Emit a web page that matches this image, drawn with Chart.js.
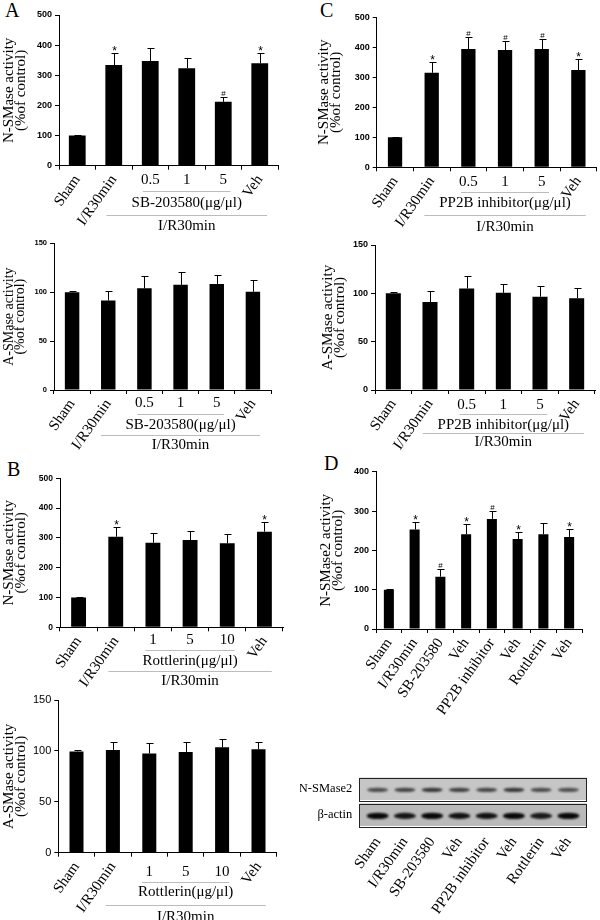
<!DOCTYPE html>
<html>
<head>
<meta charset="utf-8">
<script src="https://cdn.jsdelivr.net/npm/chart.js@4.4.1/dist/chart.umd.min.js"></script>
<style>
html,body{margin:0;padding:0;background:#fff;}
body{width:600px;height:920px;position:relative;overflow:hidden;}
.letter{position:absolute;font-family:"Liberation Serif","Times New Roman",Times,serif;font-size:20px;line-height:20px;color:#000;}
</style>
</head>
<body>
<div class="letter" style="left:5px;top:0px">A</div>
<div class="letter" style="left:320px;top:0px">C</div>
<div class="letter" style="left:7px;top:459px">B</div>
<div class="letter" style="left:324px;top:453px">D</div>
<script>
// ---------------- DATA ----------------
// Panel A : SB-203580
const catsA = ['Sham', 'I/R30min', '0.5', '1', '5', 'Veh'];
const aNSMase = [100, 334, 347, 323, 212, 340];
const aNSMaseErr = [1.5, 39, 42, 33, 17, 33];
const aNSMaseSig = ['', '*', '', '', '#', '*'];
const aASMase = [100, 91.5, 104, 107.5, 108.5, 100.5];
const aASMaseErr = [1, 10, 13, 13.5, 9.5, 12];

// Panel C : PP2B inhibitor
const catsC = ['Sham', 'I/R30min', '0.5', '1', '5', 'Veh'];
const cNSMase = [100, 315, 394, 391, 394, 324];
const cNSMaseErr = [1.5, 37, 41, 31, 35, 38];
const cNSMaseSig = ['', '*', '#', '#', '#', '*'];
const cASMase = [100, 91, 105, 100.5, 96.5, 95];
const cASMaseErr = [1, 11, 12.5, 9, 11.5, 10.5];

// Panel B : Rottlerin
const catsB = ['Sham', 'I/R30min', '1', '5', '10', 'Veh'];
const bNSMase = [100, 304, 284, 293, 282, 321];
const bNSMaseErr = [1.5, 34, 34, 31, 30, 33];
const bNSMaseSig = ['', '*', '', '', '', '*'];
const bASMase = [99.5, 101, 97.5, 99, 103.5, 101.5];
const bASMaseErr = [1.5, 8, 10, 10, 8, 7.5];

// Panel D : N-SMase2
const catsD = ['Sham', 'I/R30min', 'SB-203580', 'Veh', 'PP2B inhibitor', 'Veh', 'Rottlerin', 'Veh'];
const dNSMase2 = [100, 253, 133, 241, 280, 229, 241, 234];
const dNSMase2Err = [1.5, 18, 20, 26, 20, 18, 28, 20];
const dNSMase2Sig = ['', '*', '#', '*', '#', '*', '', '*'];

// Western blot band intensities (relative)
const blotNSMase2 = [0.75, 0.8, 0.88, 0.82, 0.78, 0.88, 0.75, 0.72];
const blotActin = [1.0, 0.92, 1.0, 0.95, 0.95, 1.0, 0.9, 1.0];
const blotRows = ['N-SMase2', 'β-actin'];

// tick settings
const nsmaseTicks = { max: 500, step: 100 };
const asmaseTicks = { max: 150, step: 50 };
const nsmase2Ticks = { max: 400, step: 100 };

const titleN = ['N-SMase activity', '(%of control)'];
const titleA = ['A-SMase activity', '(%of control)'];
const titleN2 = ['N-SMase2 activity', '(%of control)'];
const groupOuter = 'I/R30min';

// ---------------- RENDER ----------------
const SERIF = '"Liberation Serif","Times New Roman",Times,serif';
const SANS = '"Liberation Sans",Arial,Helvetica,sans-serif';

function makeCanvas(rect) {
  const [cx, cy, cw, ch] = rect;
  const cv = document.createElement('canvas');
  cv.width = cw; cv.height = ch;
  cv.style.cssText = 'position:absolute;left:' + cx + 'px;top:' + cy + 'px;width:' + cw + 'px;height:' + ch + 'px;';
  document.body.appendChild(cv);
  return cv;
}

function buildBarPanel(p) {
  const [cx, cy, cw, ch] = p.canvasRect;
  const [pl, pt, pr, pb] = p.plotRect;
  const cv = makeCanvas(p.canvasRect);
  const yW = pl - cx, xH = cy + ch - pb;
  const lh = p.titleSize * p.titleLH;
  const titlePad = (p.titleX - cx) - lh / 2;
  const horiz = p.horizIdx || [];

  const overlay = {
    id: 'overlay_' + p.id,
    afterDatasetsDraw(chart) {
      const ctx = chart.ctx, xs = chart.scales.x, ys = chart.scales.y;
      const meta = chart.getDatasetMeta(0);
      const base = chart.chartArea.bottom;
      ctx.save();
      ctx.strokeStyle = '#000'; ctx.fillStyle = '#000'; ctx.lineWidth = 1;
      p.values.forEach((v, i) => {
        const bar = meta.data[i];
        const x = Math.round(bar.x) + 0.5;
        const y0 = ys.getPixelForValue(v);
        const y1 = Math.round(ys.getPixelForValue(v + p.errors[i])) + 0.5;
        ctx.beginPath();
        ctx.moveTo(x, y0); ctx.lineTo(x, y1);
        ctx.moveTo(x - p.cap, y1); ctx.lineTo(x + p.cap + 1, y1);
        ctx.stroke();
        const s = p.sig[i];
        if (s) {
          ctx.textAlign = 'center';
          ctx.textBaseline = 'alphabetic';
          if (s === '*') { ctx.font = '12px ' + SANS; ctx.fillText(s, x, y1 + 1); }
          else { ctx.font = '8px ' + SANS; ctx.fillText(s, x, y1 - 2); }
        }
      });
      // horizontal category labels (doses)
      ctx.font = p.labelSize + 'px ' + SERIF;
      ctx.textAlign = 'center'; ctx.textBaseline = 'middle';
      horiz.forEach(i => ctx.fillText(p.labels[i], xs.getPixelForValue(i), base + p.offs[0]));
      if (p.group) {
        const cat = xs.getPixelForValue(1) - xs.getPixelForValue(0);
        const g = p.group;
        const a1 = xs.getPixelForValue(g.inner[0]) - 0.2 * cat;
        const b1 = xs.getPixelForValue(g.inner[1]) + 0.2 * cat;
        const a2 = xs.getPixelForValue(g.outer[0]) - 0.2 * cat;
        const b2 = xs.getPixelForValue(g.outer[1]) + 0.2 * cat;
        ctx.strokeStyle = '#bcbcbc';
        ctx.beginPath();
        const l1 = Math.round(base + p.offs[1]) + 0.5;
        const l2 = Math.round(base + p.offs[3]) + 0.5;
        ctx.moveTo(a1, l1); ctx.lineTo(b1, l1);
        ctx.moveTo(a2, l2); ctx.lineTo(b2, l2);
        ctx.stroke();
        ctx.fillText(g.innerText, (a1 + b1) / 2, base + p.offs[2]);
        ctx.fillText(g.outerText, (a2 + b2) / 2, base + p.offs[4]);
      }
      ctx.restore();
    }
  };

  return new Chart(cv, {
    type: 'bar',
    data: {
      labels: p.labels,
      datasets: [{
        data: p.values,
        backgroundColor: '#000',
        borderWidth: 0,
        barPercentage: p.barPct,
        categoryPercentage: 1
      }]
    },
    options: {
      responsive: false,
      animation: false,
      devicePixelRatio: 1,
      layout: { padding: { left: 0, top: pt - cy, right: cx + cw - pr, bottom: 0 } },
      plugins: { legend: { display: false }, tooltip: { enabled: false } },
      scales: {
        x: {
          offset: true,
          grid: { display: true, offset: true, drawOnChartArea: false, drawTicks: true, tickLength: 4, color: '#000', lineWidth: 1 },
          border: { display: true, color: '#000', width: 1 },
          ticks: {
            autoSkip: false, minRotation: 55, maxRotation: 55, padding: 2,
            color: '#000',
            font: { family: SERIF, size: p.labelSize },
            callback: function (value, index) { return horiz.includes(index) ? '' : p.labels[index]; }
          },
          afterFit: s => { s.height = xH; }
        },
        y: {
          min: 0, max: p.ticks.max,
          grid: { drawOnChartArea: false, drawTicks: true, tickLength: 4, color: '#000', lineWidth: 1 },
          border: { display: true, color: '#000', width: 1 },
          ticks: {
            stepSize: p.ticks.step, padding: 3, color: '#000',
            font: { family: SANS, size: p.tickSize, weight: p.tickWeight }
          },
          title: {
            display: true, text: p.title, color: '#000',
            font: { family: SERIF, size: p.titleSize, lineHeight: p.titleLH },
            padding: { top: titlePad, bottom: 0 }
          },
          afterFit: s => { s.width = yW; }
        }
      }
    },
    plugins: [overlay]
  });
}

buildBarPanel({
  id: 'aTop', canvasRect: [0, 0, 300, 235], plotRect: [59, 15, 278, 165.7],
  labels: catsA, values: aNSMase, errors: aNSMaseErr, sig: aNSMaseSig,
  ticks: nsmaseTicks, tickSize: 9, tickWeight: 'bold',
  title: titleN, titleSize: 15, titleLH: 0.8, titleX: 9.5,
  barPct: 0.46, cap: 3, labelSize: 15, horizIdx: [2, 3, 4],
  offs: [14.3, 25.7, 37, 49, 60],
  group: { inner: [2, 4], outer: [1, 5], innerText: 'SB-203580(μg/μl)', outerText: groupOuter }
});

buildBarPanel({
  id: 'aBot', canvasRect: [0, 235, 300, 220], plotRect: [54, 243.3, 271, 390],
  labels: catsA, values: aASMase, errors: aASMaseErr, sig: ['', '', '', '', '', ''],
  ticks: asmaseTicks, tickSize: 7.5, tickWeight: 'bold',
  title: titleA, titleSize: 14, titleLH: 0.8, titleX: 9,
  barPct: 0.4, cap: 3, labelSize: 15, horizIdx: [2, 3, 4],
  offs: [13, 24, 35, 45, 55],
  group: { inner: [2, 4], outer: [1, 5], innerText: 'SB-203580(μg/μl)', outerText: groupOuter }
});

buildBarPanel({
  id: 'cTop', canvasRect: [300, 0, 300, 235], plotRect: [376.7, 17.3, 596.7, 167.3],
  labels: catsC, values: cNSMase, errors: cNSMaseErr, sig: cNSMaseSig,
  ticks: nsmaseTicks, tickSize: 9, tickWeight: 'bold',
  title: titleN, titleSize: 15, titleLH: 0.8, titleX: 324.5,
  barPct: 0.39, cap: 3, labelSize: 15, horizIdx: [2, 3, 4],
  offs: [14.4, 24.4, 35.7, 47.7, 59.7],
  group: { inner: [2, 4], outer: [1, 5], innerText: 'PP2B inhibitor(μg/μl)', outerText: groupOuter }
});

buildBarPanel({
  id: 'cBot', canvasRect: [300, 235, 300, 220], plotRect: [375, 245, 595, 390],
  labels: catsC, values: cASMase, errors: cASMaseErr, sig: ['', '', '', '', '', ''],
  ticks: asmaseTicks, tickSize: 9, tickWeight: 'bold',
  title: titleA, titleSize: 15, titleLH: 0.8, titleX: 328,
  barPct: 0.41, cap: 3, labelSize: 15, horizIdx: [2, 3, 4],
  offs: [15, 24, 35, 43, 52],
  group: { inner: [2, 4], outer: [1, 5], innerText: 'PP2B inhibitor(μg/μl)', outerText: groupOuter }
});

buildBarPanel({
  id: 'bTop', canvasRect: [0, 455, 300, 235], plotRect: [60, 478.3, 283, 627.3],
  labels: catsB, values: bNSMase, errors: bNSMaseErr, sig: bNSMaseSig,
  ticks: nsmaseTicks, tickSize: 8.5, tickWeight: 'bold',
  title: titleN, titleSize: 15, titleLH: 0.8, titleX: 9.5,
  barPct: 0.4, cap: 3, labelSize: 15, horizIdx: [2, 3, 4],
  offs: [12.7, 22.7, 33.4, 43.4, 53.4],
  group: { inner: [2, 4], outer: [1, 5], innerText: 'Rottlerin(μg/μl)', outerText: groupOuter }
});

buildBarPanel({
  id: 'bBot', canvasRect: [0, 690, 300, 230], plotRect: [58.3, 700, 276.7, 852.7],
  labels: catsB, values: bASMase, errors: bASMaseErr, sig: ['', '', '', '', '', ''],
  ticks: asmaseTicks, tickSize: 11, tickWeight: 'normal',
  title: titleA, titleSize: 15, titleLH: 0.8, titleX: 9.5,
  barPct: 0.385, cap: 3, labelSize: 15, horizIdx: [2, 3, 4],
  offs: [19, 29, 39, 52.3, 64],
  group: { inner: [2, 4], outer: [1, 5], innerText: 'Rottlerin(μg/μl)', outerText: groupOuter }
});

buildBarPanel({
  id: 'dTop', canvasRect: [300, 455, 300, 260], plotRect: [376, 471.7, 582, 629],
  labels: catsD, values: dNSMase2, errors: dNSMase2Err, sig: dNSMase2Sig,
  ticks: nsmase2Ticks, tickSize: 9, tickWeight: 'bold',
  title: titleN2, titleSize: 15, titleLH: 0.8, titleX: 326,
  barPct: 0.39, cap: 3, labelSize: 15, horizIdx: [],
  offs: [0, 0, 0, 0, 0], group: null
});

// ---------------- Western blot ----------------
(function () {
  const rect = [300, 760, 300, 160];
  const cv = makeCanvas(rect);
  const plot = [364, 777.5, 582, 826];
  const blotPlugin = {
    id: 'blot',
    afterDraw(chart) {
      const ctx = chart.ctx, ca = chart.chartArea, xs = chart.scales.x;
      const L = ca.left - 4.7, R = ca.right + 4.7;
      const gap = 3.5;
      const boxH = (ca.bottom - ca.top - gap) / 2;
      const rows = [
        { y: ca.top, vals: blotNSMase2, rx: 10.5, ry: 2.1, col: [35, 35, 35], bg: '#c6c6c6' },
        { y: ca.top + boxH + gap, vals: blotActin, rx: 11, ry: 2.9, col: [8, 8, 8], bg: '#bababa' }
      ];
      ctx.save();
      rows.forEach((r, ri) => {
        ctx.fillStyle = r.bg;
        ctx.fillRect(L, r.y, R - L, boxH);
        ctx.save();
        ctx.filter = 'blur(0.9px)';
        r.vals.forEach((v, i) => {
          const x = xs.getPixelForValue(i);
          ctx.fillStyle = 'rgba(' + r.col.join(',') + ',' + v + ')';
          ctx.beginPath();
          ctx.ellipse(x, r.y + boxH * 0.55, r.rx, r.ry * (0.8 + 0.3 * v), 0, 0, Math.PI * 2);
          ctx.fill();
        });
        ctx.restore();
        ctx.strokeStyle = '#222'; ctx.lineWidth = 1;
        ctx.strokeRect(Math.round(L) + 0.5, Math.round(r.y) + 0.5, Math.round(R - L), Math.round(boxH));
        ctx.fillStyle = '#000';
        ctx.font = '12.5px ' + SERIF;
        ctx.textAlign = 'right'; ctx.textBaseline = 'middle';
        ctx.fillText(blotRows[ri], L - 7, r.y + boxH / 2);
      });
      ctx.restore();
    }
  };
  new Chart(cv, {
    type: 'bar',
    data: { labels: catsD, datasets: [] },
    options: {
      responsive: false, animation: false, devicePixelRatio: 1,
      layout: { padding: { left: plot[0] - rect[0], top: plot[1] - rect[1], right: rect[0] + rect[2] - plot[2], bottom: 0 } },
      plugins: { legend: { display: false }, tooltip: { enabled: false } },
      scales: {
        x: {
          offset: true,
          grid: { display: false, drawTicks: false },
          border: { display: false },
          ticks: { autoSkip: false, minRotation: 55, maxRotation: 55, padding: 8, color: '#000', font: { family: SERIF, size: 15 } },
          afterFit: s => { s.height = rect[1] + rect[3] - plot[3]; }
        },
        y: { display: false, min: 0, max: 1 }
      }
    },
    plugins: [blotPlugin]
  });
})();
</script>
</body>
</html>
